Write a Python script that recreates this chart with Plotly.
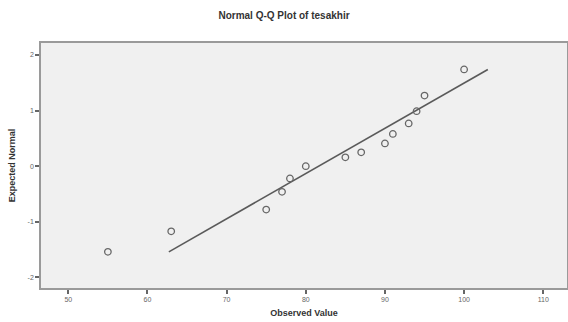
import plotly.graph_objects as go

observed = [55, 63, 75, 77, 78, 80, 85, 87, 90, 91, 93, 94, 95, 100]
expected = [-1.54, -1.17, -0.78, -0.46, -0.22, 0.0, 0.16, 0.25, 0.41, 0.58, 0.77, 0.99, 1.27, 1.74]

# Reference line end points
line_x = [62.7, 103.0]
line_y = [-1.54, 1.74]

x_ticks = [50, 60, 70, 80, 90, 100, 110]
y_ticks = [-2, -1, 0, 1, 2]

fig = go.Figure()
fig.add_trace(go.Scatter(
    x=line_x, y=line_y, mode="lines",
    line=dict(color="#5a5a5a", width=1.6),
    hoverinfo="skip", showlegend=False))
fig.add_trace(go.Scatter(
    x=observed, y=expected, mode="markers",
    marker=dict(symbol="circle-open", size=6.5, color="#666666",
                line=dict(width=1.3, color="#666666")),
    showlegend=False))

fig.update_layout(
    template="none",
    width=568, height=322,
    margin=dict(l=41, r=1, t=43, b=34, autoexpand=False),
    paper_bgcolor="white",
    plot_bgcolor="#f0f0f0",
    font=dict(family="Liberation Sans, Arial, sans-serif", color="#444444"),
    title=dict(text="<b>Normal Q-Q Plot of tesakhir</b>",
               x=0.5, xanchor="center", y=1 - 15 / 322, yanchor="middle",
               yref="container",
               font=dict(size=10, color="#333333")),
    xaxis=dict(
        automargin=False,
        range=[46.55, 113.0], tickvals=x_ticks, ticktext=[str(v) for v in x_ticks],
        showgrid=False, zeroline=False,
        showline=True, mirror=True, linecolor="#9a9a9a", linewidth=1.5,
        ticks="outside", ticklen=4, tickcolor="#666666", tickwidth=1.5,
        tickfont=dict(size=7, color="#666666"),
        title=dict(text="<b>Observed Value</b>", standoff=8,
                   font=dict(size=9, color="#333333")),
    ),
    yaxis=dict(
        automargin=False,
        range=[-2.19, 2.216], tickvals=y_ticks, ticktext=[str(v) for v in y_ticks],
        showgrid=False, zeroline=False,
        showline=True, mirror=True, linecolor="#9a9a9a", linewidth=1.5,
        ticks="outside", ticklen=4, tickcolor="#666666", tickwidth=1.5,
        tickfont=dict(size=7, color="#666666"),
        title=dict(text="<b>Expected Normal</b>", standoff=10,
                   font=dict(size=9, color="#333333")),
    ),
)

fig.write_html("out.html",
               config={"displayModeBar": False},
               post_script="document.body.style.margin='0';document.body.style.overflow='hidden';")
